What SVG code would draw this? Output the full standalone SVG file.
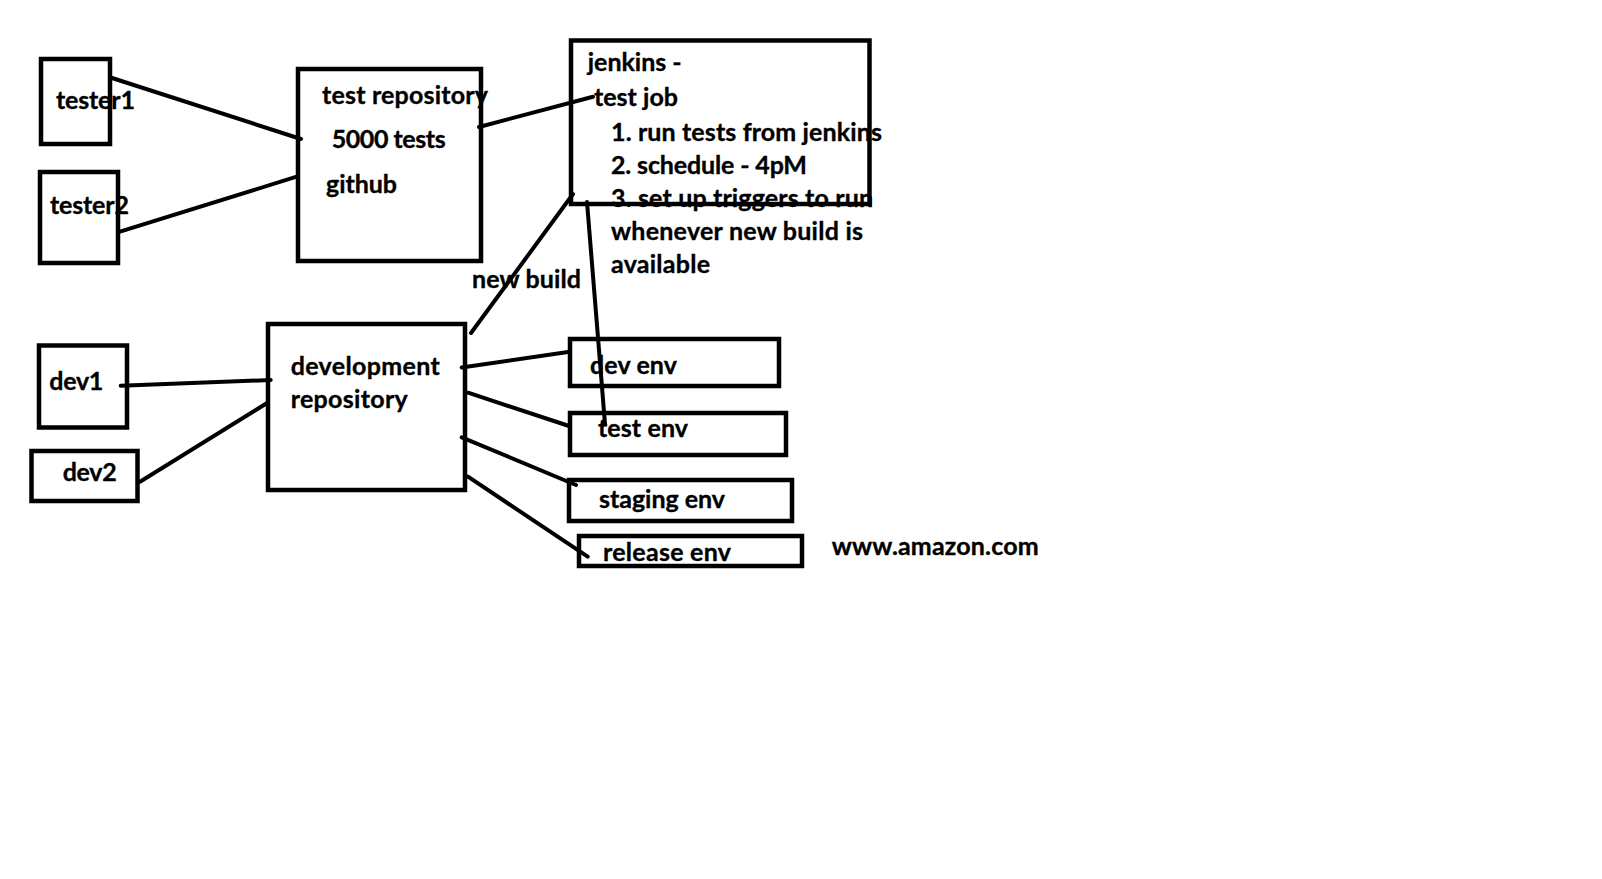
<svg xmlns="http://www.w3.org/2000/svg" width="1602" height="879" viewBox="0 0 1602 879">
<style>
.t{font-family:Lato,"Open Sans","Liberation Sans",sans-serif;font-weight:bold;font-size:25px;fill:#000;stroke:#000;stroke-width:0.35}
.b{fill:none;stroke:#000;stroke-width:4.5}
.c{fill:none;stroke:#000;stroke-width:4;stroke-linecap:round}
</style>
<rect x="0" y="0" width="1602" height="879" fill="#fff"/>
<g id="tester1">
<text class="t" x="56" y="109" textLength="79">tester1</text>
<rect class="b" x="41" y="59" width="69" height="85"/>
</g>
<g id="tester2">
<text class="t" x="50" y="214" textLength="79">tester2</text>
<rect class="b" x="40" y="172" width="78" height="91"/>
</g>
<g id="test-repository">
<text class="t" x="322" y="103.5" textLength="166">test repository</text>
<text class="t" x="331.7" y="147.5" textLength="114">5000 tests</text>
<text class="t" x="326" y="192.5" textLength="71">github</text>
<rect class="b" x="298" y="69" width="183" height="192"/>
</g>
<g id="jenkins">
<text class="t" x="587.7" y="71" textLength="94">jenkins -</text>
<text class="t" x="594" y="106" textLength="84">test job</text>
<text class="t" x="611" y="141" textLength="271">1. run tests from jenkins</text>
<text class="t" x="611" y="173.5" textLength="196">2. schedule - 4pM</text>
<text class="t" x="611" y="207" textLength="262">3. set up triggers to run</text>
<text class="t" x="611" y="240" textLength="252">whenever new build is</text>
<text class="t" x="611" y="272.5" textLength="99">available</text>
<rect class="b" x="571" y="40.5" width="298.5" height="163.5"/>
</g>
<g id="development-repository">
<text class="t" x="290.7" y="375" textLength="149">development</text>
<text class="t" x="290.7" y="408" textLength="117">repository</text>
<rect class="b" x="268" y="324" width="197" height="166"/>
</g>
<g id="dev1">
<text class="t" x="49.3" y="390" textLength="54">dev1</text>
<rect class="b" x="39" y="345.5" width="88" height="82"/>
</g>
<g id="dev2">
<text class="t" x="62.7" y="481" textLength="54">dev2</text>
<rect class="b" x="31.5" y="451" width="106" height="50"/>
</g>
<g id="dev-env">
<text class="t" x="590" y="374" textLength="87">dev env</text>
<rect class="b" x="570" y="339" width="209" height="47"/>
</g>
<g id="test-env">
<text class="t" x="598" y="437" textLength="90">test env</text>
<rect class="b" x="570" y="413" width="216" height="42"/>
</g>
<g id="staging-env">
<text class="t" x="599" y="507.5" textLength="126">staging env</text>
<rect class="b" x="569" y="480" width="223" height="41"/>
</g>
<g id="release-env">
<text class="t" x="603" y="561" textLength="128">release env</text>
<rect class="b" x="579" y="536" width="223" height="30"/>
</g>
<g id="amazon">
<text class="t" x="831.7" y="555" textLength="207">www.amazon.com</text>
</g>
<g id="connectors">
<line class="c" x1="112" y1="78" x2="301" y2="139"/>
<line class="c" x1="120" y1="231.7" x2="296.7" y2="176.7"/>
<line class="c" x1="479" y1="127" x2="593" y2="96.7"/>
<line class="c" x1="573" y1="194" x2="471" y2="333"/>
<line class="c" x1="587" y1="202" x2="605" y2="424"/>
<line class="c" x1="120.7" y1="385.7" x2="270.7" y2="380"/>
<line class="c" x1="140" y1="481.7" x2="266.7" y2="403.3"/>
<line class="c" x1="461.7" y1="367.5" x2="568" y2="352"/>
<line class="c" x1="468" y1="392.7" x2="569" y2="426"/>
<line class="c" x1="461.7" y1="437.3" x2="576" y2="485"/>
<line class="c" x1="468" y1="476.7" x2="587.7" y2="556.7"/>
</g>
<text class="t" x="472" y="288" textLength="109">new build</text>
</svg>
